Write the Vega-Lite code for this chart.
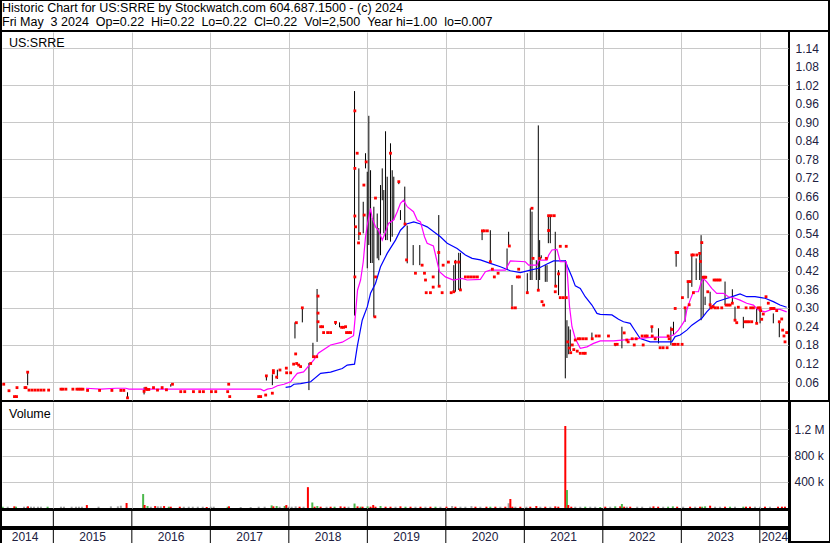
{
  "$schema": "https://vega.github.io/schema/vega-lite/v6.json",
  "background": "black",
  "padding": {"left": 2, "right": 2, "top": 1, "bottom": 2},
  "config": {
    "view": {"fill": "white", "stroke": null},
    "font": "Liberation Sans",
    "axis": {"gridColor": "#c8c8c8", "gridOpacity": 1, "gridWidth": 1, "labels": false, "ticks": false, "domain": false, "grid": true}
  },
  "datasets": {
    "bars": [
      {"t": 2014.673, "lo": 0.050, "hi": 0.092},
      {"t": 2015.945, "lo": 0.009, "hi": 0.027},
      {"t": 2016.156, "lo": 0.020, "hi": 0.043},
      {"t": 2016.386, "lo": 0.036, "hi": 0.045},
      {"t": 2016.496, "lo": 0.045, "hi": 0.053},
      {"t": 2017.714, "lo": 0.065, "hi": 0.080},
      {"t": 2017.790, "lo": 0.050, "hi": 0.085},
      {"t": 2017.854, "lo": 0.070, "hi": 0.100},
      {"t": 2018.078, "lo": 0.201, "hi": 0.253},
      {"t": 2018.172, "lo": 0.253, "hi": 0.300},
      {"t": 2018.256, "lo": 0.034, "hi": 0.122},
      {"t": 2018.307, "lo": 0.138, "hi": 0.187},
      {"t": 2018.360, "lo": 0.190, "hi": 0.361},
      {"t": 2018.595, "lo": 0.245, "hi": 0.255},
      {"t": 2018.646, "lo": 0.237, "hi": 0.253},
      {"t": 2018.837, "lo": 0.275, "hi": 1.001},
      {"t": 2018.892, "lo": 0.519, "hi": 0.751},
      {"t": 2018.948, "lo": 0.541, "hi": 0.643},
      {"t": 2018.977, "lo": 0.751, "hi": 0.800},
      {"t": 2018.999, "lo": 0.428, "hi": 0.740},
      {"t": 2019.019, "lo": 0.503, "hi": 0.921},
      {"t": 2019.041, "lo": 0.445, "hi": 0.745},
      {"t": 2019.062, "lo": 0.445, "hi": 0.590},
      {"t": 2019.083, "lo": 0.271, "hi": 0.627},
      {"t": 2019.126, "lo": 0.460, "hi": 0.605},
      {"t": 2019.146, "lo": 0.454, "hi": 0.558},
      {"t": 2019.168, "lo": 0.470, "hi": 0.697},
      {"t": 2019.190, "lo": 0.648, "hi": 0.751},
      {"t": 2019.210, "lo": 0.541, "hi": 0.681},
      {"t": 2019.232, "lo": 0.519, "hi": 0.871},
      {"t": 2019.253, "lo": 0.519, "hi": 0.724},
      {"t": 2019.295, "lo": 0.514, "hi": 0.832},
      {"t": 2019.317, "lo": 0.530, "hi": 0.745},
      {"t": 2019.337, "lo": 0.584, "hi": 0.724},
      {"t": 2019.401, "lo": 0.700, "hi": 0.708},
      {"t": 2019.422, "lo": 0.584, "hi": 0.616},
      {"t": 2019.477, "lo": 0.571, "hi": 0.692},
      {"t": 2019.508, "lo": 0.444, "hi": 0.566},
      {"t": 2019.584, "lo": 0.438, "hi": 0.503},
      {"t": 2019.668, "lo": 0.438, "hi": 0.503},
      {"t": 2019.910, "lo": 0.368, "hi": 0.600},
      {"t": 2020.101, "lo": 0.352, "hi": 0.438},
      {"t": 2020.122, "lo": 0.352, "hi": 0.455},
      {"t": 2020.164, "lo": 0.358, "hi": 0.478},
      {"t": 2020.186, "lo": 0.358, "hi": 0.478},
      {"t": 2020.462, "lo": 0.519, "hi": 0.549},
      {"t": 2020.567, "lo": 0.449, "hi": 0.551},
      {"t": 2020.780, "lo": 0.422, "hi": 0.492},
      {"t": 2020.800, "lo": 0.503, "hi": 0.546},
      {"t": 2020.843, "lo": 0.304, "hi": 0.374},
      {"t": 2021.038, "lo": 0.348, "hi": 0.412},
      {"t": 2021.076, "lo": 0.390, "hi": 0.622},
      {"t": 2021.098, "lo": 0.390, "hi": 0.611},
      {"t": 2021.153, "lo": 0.390, "hi": 0.454},
      {"t": 2021.178, "lo": 0.357, "hi": 0.890},
      {"t": 2021.195, "lo": 0.390, "hi": 0.519},
      {"t": 2021.216, "lo": 0.460, "hi": 0.470},
      {"t": 2021.267, "lo": 0.384, "hi": 0.438},
      {"t": 2021.289, "lo": 0.384, "hi": 0.438},
      {"t": 2021.306, "lo": 0.509, "hi": 0.600},
      {"t": 2021.331, "lo": 0.509, "hi": 0.600},
      {"t": 2021.394, "lo": 0.368, "hi": 0.546},
      {"t": 2021.436, "lo": 0.341, "hi": 0.422},
      {"t": 2021.522, "lo": 0.072, "hi": 0.454},
      {"t": 2021.543, "lo": 0.138, "hi": 0.260},
      {"t": 2021.565, "lo": 0.150, "hi": 0.240},
      {"t": 2021.585, "lo": 0.160, "hi": 0.230},
      {"t": 2021.861, "lo": 0.196, "hi": 0.220},
      {"t": 2022.158, "lo": 0.176, "hi": 0.182},
      {"t": 2022.243, "lo": 0.169, "hi": 0.239},
      {"t": 2022.625, "lo": 0.220, "hi": 0.239},
      {"t": 2022.709, "lo": 0.185, "hi": 0.234},
      {"t": 2022.867, "lo": 0.180, "hi": 0.239},
      {"t": 2022.900, "lo": 0.212, "hi": 0.255},
      {"t": 2022.934, "lo": 0.433, "hi": 0.479},
      {"t": 2023.048, "lo": 0.255, "hi": 0.300},
      {"t": 2023.086, "lo": 0.331, "hi": 0.385},
      {"t": 2023.134, "lo": 0.368, "hi": 0.471},
      {"t": 2023.189, "lo": 0.390, "hi": 0.460},
      {"t": 2023.234, "lo": 0.390, "hi": 0.476},
      {"t": 2023.252, "lo": 0.260, "hi": 0.535},
      {"t": 2023.278, "lo": 0.271, "hi": 0.400},
      {"t": 2023.303, "lo": 0.309, "hi": 0.336},
      {"t": 2023.367, "lo": 0.298, "hi": 0.352},
      {"t": 2023.557, "lo": 0.309, "hi": 0.385},
      {"t": 2023.650, "lo": 0.315, "hi": 0.360},
      {"t": 2023.684, "lo": 0.260, "hi": 0.304},
      {"t": 2023.790, "lo": 0.234, "hi": 0.271},
      {"t": 2023.960, "lo": 0.250, "hi": 0.298},
      {"t": 2024.003, "lo": 0.250, "hi": 0.298},
      {"t": 2024.172, "lo": 0.250, "hi": 0.282},
      {"t": 2024.248, "lo": 0.205, "hi": 0.255}
    ],
    "dots": [
      {"t": 2014.368, "p": 0.053}, {"t": 2014.435, "p": 0.032}, {"t": 2014.505, "p": 0.013}, {"t": 2014.531, "p": 0.013},
      {"t": 2014.537, "p": 0.042}, {"t": 2014.639, "p": 0.042}, {"t": 2014.651, "p": 0.042}, {"t": 2014.673, "p": 0.092},
      {"t": 2014.690, "p": 0.034}, {"t": 2014.728, "p": 0.034}, {"t": 2014.766, "p": 0.034}, {"t": 2014.804, "p": 0.034},
      {"t": 2014.842, "p": 0.034}, {"t": 2014.880, "p": 0.034}, {"t": 2014.940, "p": 0.034},
      {"t": 2015.097, "p": 0.037}, {"t": 2015.122, "p": 0.037}, {"t": 2015.160, "p": 0.037}, {"t": 2015.249, "p": 0.037},
      {"t": 2015.300, "p": 0.037}, {"t": 2015.326, "p": 0.037}, {"t": 2015.351, "p": 0.037}, {"t": 2015.377, "p": 0.037},
      {"t": 2015.436, "p": 0.033}, {"t": 2015.589, "p": 0.033}, {"t": 2015.746, "p": 0.033}, {"t": 2015.860, "p": 0.033},
      {"t": 2015.898, "p": 0.033}, {"t": 2015.945, "p": 0.009},
      {"t": 2016.156, "p": 0.030}, {"t": 2016.178, "p": 0.040}, {"t": 2016.190, "p": 0.036}, {"t": 2016.216, "p": 0.036},
      {"t": 2016.276, "p": 0.042}, {"t": 2016.327, "p": 0.034}, {"t": 2016.386, "p": 0.042}, {"t": 2016.441, "p": 0.035},
      {"t": 2016.518, "p": 0.053}, {"t": 2016.623, "p": 0.029}, {"t": 2016.674, "p": 0.029}, {"t": 2016.785, "p": 0.029},
      {"t": 2016.865, "p": 0.029}, {"t": 2016.912, "p": 0.029},
      {"t": 2017.014, "p": 0.029}, {"t": 2017.069, "p": 0.029}, {"t": 2017.221, "p": 0.029}, {"t": 2017.234, "p": 0.053},
      {"t": 2017.247, "p": 0.013}, {"t": 2017.616, "p": 0.013}, {"t": 2017.641, "p": 0.013}, {"t": 2017.705, "p": 0.018},
      {"t": 2017.714, "p": 0.080}, {"t": 2017.790, "p": 0.024}, {"t": 2017.803, "p": 0.090}, {"t": 2017.803, "p": 0.097},
      {"t": 2017.845, "p": 0.076}, {"t": 2017.887, "p": 0.099}, {"t": 2017.968, "p": 0.105}, {"t": 2017.972, "p": 0.090},
      {"t": 2018.023, "p": 0.090}, {"t": 2018.061, "p": 0.118}, {"t": 2018.087, "p": 0.151}, {"t": 2018.125, "p": 0.115},
      {"t": 2018.096, "p": 0.252}, {"t": 2018.172, "p": 0.300}, {"t": 2018.100, "p": 0.120}, {"t": 2018.150, "p": 0.110},
      {"t": 2018.278, "p": 0.120}, {"t": 2018.316, "p": 0.142}, {"t": 2018.355, "p": 0.142}, {"t": 2018.372, "p": 0.338},
      {"t": 2018.372, "p": 0.283}, {"t": 2018.372, "p": 0.255}, {"t": 2018.405, "p": 0.239}, {"t": 2018.430, "p": 0.239},
      {"t": 2018.443, "p": 0.220}, {"t": 2018.494, "p": 0.220}, {"t": 2018.532, "p": 0.220}, {"t": 2018.595, "p": 0.253},
      {"t": 2018.672, "p": 0.237}, {"t": 2018.697, "p": 0.237}, {"t": 2018.723, "p": 0.239}, {"t": 2018.735, "p": 0.220},
      {"t": 2018.761, "p": 0.220}, {"t": 2018.786, "p": 0.220}, {"t": 2018.841, "p": 0.937}, {"t": 2018.841, "p": 0.751},
      {"t": 2018.841, "p": 0.597}, {"t": 2018.850, "p": 0.562}, {"t": 2018.841, "p": 0.400}, {"t": 2018.871, "p": 0.800},
      {"t": 2018.888, "p": 0.510}, {"t": 2018.901, "p": 0.540}, {"t": 2018.956, "p": 0.697}, {"t": 2018.960, "p": 0.600},
      {"t": 2018.985, "p": 0.772}, {"t": 2019.096, "p": 0.271}, {"t": 2019.104, "p": 0.400}, {"t": 2019.104, "p": 0.655},
      {"t": 2019.295, "p": 0.800}, {"t": 2019.401, "p": 0.708}, {"t": 2019.480, "p": 0.571}, {"t": 2019.500, "p": 0.455},
      {"t": 2019.613, "p": 0.412}, {"t": 2019.698, "p": 0.438}, {"t": 2019.728, "p": 0.412}, {"t": 2019.741, "p": 0.390},
      {"t": 2019.750, "p": 0.349}, {"t": 2019.804, "p": 0.349}, {"t": 2019.839, "p": 0.400}, {"t": 2019.839, "p": 0.367},
      {"t": 2019.910, "p": 0.479}, {"t": 2019.915, "p": 0.370}, {"t": 2019.953, "p": 0.349}, {"t": 2019.966, "p": 0.438},
      {"t": 2020.033, "p": 0.448}, {"t": 2020.068, "p": 0.349}, {"t": 2020.101, "p": 0.352}, {"t": 2020.122, "p": 0.448},
      {"t": 2020.164, "p": 0.448}, {"t": 2020.186, "p": 0.358}, {"t": 2020.249, "p": 0.400}, {"t": 2020.288, "p": 0.400},
      {"t": 2020.326, "p": 0.400}, {"t": 2020.364, "p": 0.400}, {"t": 2020.402, "p": 0.400}, {"t": 2020.466, "p": 0.549},
      {"t": 2020.491, "p": 0.549}, {"t": 2020.529, "p": 0.549}, {"t": 2020.567, "p": 0.449}, {"t": 2020.593, "p": 0.425},
      {"t": 2020.618, "p": 0.400}, {"t": 2020.666, "p": 0.412}, {"t": 2020.809, "p": 0.500}, {"t": 2020.847, "p": 0.300},
      {"t": 2020.886, "p": 0.300}, {"t": 2020.911, "p": 0.400}, {"t": 2020.928, "p": 0.425}, {"t": 2020.937, "p": 0.400},
      {"t": 2021.038, "p": 0.349}, {"t": 2021.098, "p": 0.622}, {"t": 2021.111, "p": 0.460}, {"t": 2021.178, "p": 0.357},
      {"t": 2021.195, "p": 0.460}, {"t": 2021.225, "p": 0.320}, {"t": 2021.246, "p": 0.309}, {"t": 2021.280, "p": 0.460},
      {"t": 2021.309, "p": 0.598}, {"t": 2021.343, "p": 0.598}, {"t": 2021.381, "p": 0.598}, {"t": 2021.309, "p": 0.550},
      {"t": 2021.394, "p": 0.352}, {"t": 2021.400, "p": 0.370}, {"t": 2021.436, "p": 0.410}, {"t": 2021.458, "p": 0.499},
      {"t": 2021.534, "p": 0.499}, {"t": 2021.458, "p": 0.333}, {"t": 2021.496, "p": 0.333}, {"t": 2021.534, "p": 0.333},
      {"t": 2021.553, "p": 0.190}, {"t": 2021.572, "p": 0.170}, {"t": 2021.591, "p": 0.155}, {"t": 2021.611, "p": 0.180},
      {"t": 2021.630, "p": 0.165}, {"t": 2021.649, "p": 0.196}, {"t": 2021.674, "p": 0.160}, {"t": 2021.687, "p": 0.200},
      {"t": 2021.713, "p": 0.200}, {"t": 2021.751, "p": 0.200}, {"t": 2021.713, "p": 0.153}, {"t": 2021.751, "p": 0.153},
      {"t": 2021.776, "p": 0.153}, {"t": 2021.789, "p": 0.200}, {"t": 2021.865, "p": 0.200}, {"t": 2021.916, "p": 0.209},
      {"t": 2021.954, "p": 0.209}, {"t": 2022.072, "p": 0.209}, {"t": 2022.158, "p": 0.182}, {"t": 2022.183, "p": 0.182},
      {"t": 2022.272, "p": 0.219}, {"t": 2022.306, "p": 0.196}, {"t": 2022.323, "p": 0.190}, {"t": 2022.374, "p": 0.200},
      {"t": 2022.400, "p": 0.180}, {"t": 2022.425, "p": 0.200}, {"t": 2022.501, "p": 0.209}, {"t": 2022.514, "p": 0.180},
      {"t": 2022.540, "p": 0.209}, {"t": 2022.565, "p": 0.209}, {"t": 2022.625, "p": 0.239}, {"t": 2022.629, "p": 0.209},
      {"t": 2022.667, "p": 0.200}, {"t": 2022.730, "p": 0.171}, {"t": 2022.768, "p": 0.171}, {"t": 2022.819, "p": 0.171},
      {"t": 2022.832, "p": 0.209}, {"t": 2022.845, "p": 0.200}, {"t": 2022.879, "p": 0.230}, {"t": 2022.896, "p": 0.182},
      {"t": 2022.922, "p": 0.298}, {"t": 2022.922, "p": 0.182}, {"t": 2022.934, "p": 0.479}, {"t": 2022.953, "p": 0.479},
      {"t": 2022.959, "p": 0.182}, {"t": 2023.010, "p": 0.182}, {"t": 2023.014, "p": 0.333}, {"t": 2023.048, "p": 0.300},
      {"t": 2023.086, "p": 0.385}, {"t": 2023.112, "p": 0.385}, {"t": 2023.100, "p": 0.310}, {"t": 2023.134, "p": 0.471},
      {"t": 2023.154, "p": 0.471}, {"t": 2023.197, "p": 0.471}, {"t": 2023.154, "p": 0.349}, {"t": 2023.234, "p": 0.476},
      {"t": 2023.243, "p": 0.450}, {"t": 2023.261, "p": 0.511}, {"t": 2023.278, "p": 0.399}, {"t": 2023.294, "p": 0.399},
      {"t": 2023.311, "p": 0.399}, {"t": 2023.337, "p": 0.352}, {"t": 2023.367, "p": 0.310}, {"t": 2023.380, "p": 0.300},
      {"t": 2023.417, "p": 0.390}, {"t": 2023.443, "p": 0.390}, {"t": 2023.469, "p": 0.390}, {"t": 2023.494, "p": 0.390},
      {"t": 2023.405, "p": 0.304}, {"t": 2023.430, "p": 0.300}, {"t": 2023.464, "p": 0.300}, {"t": 2023.515, "p": 0.300},
      {"t": 2023.570, "p": 0.309}, {"t": 2023.596, "p": 0.309}, {"t": 2023.621, "p": 0.309}, {"t": 2023.650, "p": 0.315},
      {"t": 2023.684, "p": 0.260}, {"t": 2023.706, "p": 0.252}, {"t": 2023.726, "p": 0.302}, {"t": 2023.811, "p": 0.255},
      {"t": 2023.837, "p": 0.255}, {"t": 2023.863, "p": 0.255}, {"t": 2023.897, "p": 0.255}, {"t": 2023.825, "p": 0.300},
      {"t": 2023.884, "p": 0.300}, {"t": 2023.918, "p": 0.300}, {"t": 2023.960, "p": 0.250}, {"t": 2023.978, "p": 0.300},
      {"t": 2024.003, "p": 0.300}, {"t": 2024.011, "p": 0.291}, {"t": 2024.024, "p": 0.263}, {"t": 2024.044, "p": 0.280},
      {"t": 2024.079, "p": 0.336}, {"t": 2024.108, "p": 0.315}, {"t": 2024.139, "p": 0.298}, {"t": 2024.159, "p": 0.298},
      {"t": 2024.181, "p": 0.298}, {"t": 2024.215, "p": 0.291}, {"t": 2024.248, "p": 0.255}, {"t": 2024.279, "p": 0.264},
      {"t": 2024.291, "p": 0.228}, {"t": 2024.308, "p": 0.209}, {"t": 2024.321, "p": 0.190}, {"t": 2024.342, "p": 0.220}
    ],
    "ma1": [
      {"t": 2015.415, "v": 0.040}, {"t": 2015.606, "v": 0.037}, {"t": 2015.796, "v": 0.040}, {"t": 2015.924, "v": 0.040},
      {"t": 2015.962, "v": 0.037}, {"t": 2016.114, "v": 0.037}, {"t": 2016.878, "v": 0.037}, {"t": 2017.641, "v": 0.037},
      {"t": 2017.683, "v": 0.032}, {"t": 2017.726, "v": 0.037}, {"t": 2017.790, "v": 0.040}, {"t": 2017.854, "v": 0.048},
      {"t": 2017.938, "v": 0.053}, {"t": 2018.023, "v": 0.061}, {"t": 2018.065, "v": 0.075}, {"t": 2018.108, "v": 0.088},
      {"t": 2018.188, "v": 0.093}, {"t": 2018.316, "v": 0.131}, {"t": 2018.379, "v": 0.154}, {"t": 2018.532, "v": 0.180},
      {"t": 2018.681, "v": 0.189}, {"t": 2018.824, "v": 0.210}, {"t": 2018.850, "v": 0.283}, {"t": 2018.875, "v": 0.357},
      {"t": 2018.914, "v": 0.390}, {"t": 2018.948, "v": 0.449}, {"t": 2018.977, "v": 0.530}, {"t": 2019.003, "v": 0.573},
      {"t": 2019.041, "v": 0.622}, {"t": 2019.062, "v": 0.590}, {"t": 2019.104, "v": 0.562}, {"t": 2019.143, "v": 0.551},
      {"t": 2019.190, "v": 0.519}, {"t": 2019.232, "v": 0.545}, {"t": 2019.270, "v": 0.573}, {"t": 2019.334, "v": 0.584},
      {"t": 2019.381, "v": 0.611}, {"t": 2019.422, "v": 0.638}, {"t": 2019.461, "v": 0.648}, {"t": 2019.508, "v": 0.627},
      {"t": 2019.588, "v": 0.611}, {"t": 2019.635, "v": 0.584}, {"t": 2019.677, "v": 0.578}, {"t": 2019.728, "v": 0.530},
      {"t": 2019.762, "v": 0.509}, {"t": 2019.842, "v": 0.500}, {"t": 2019.889, "v": 0.449}, {"t": 2019.919, "v": 0.417},
      {"t": 2019.995, "v": 0.400}, {"t": 2020.097, "v": 0.390}, {"t": 2020.207, "v": 0.395}, {"t": 2020.271, "v": 0.390},
      {"t": 2020.440, "v": 0.392}, {"t": 2020.504, "v": 0.417}, {"t": 2020.567, "v": 0.422}, {"t": 2020.758, "v": 0.422},
      {"t": 2020.822, "v": 0.452}, {"t": 2021.013, "v": 0.449}, {"t": 2021.055, "v": 0.438}, {"t": 2021.162, "v": 0.438},
      {"t": 2021.182, "v": 0.454}, {"t": 2021.289, "v": 0.454}, {"t": 2021.309, "v": 0.470}, {"t": 2021.352, "v": 0.487},
      {"t": 2021.416, "v": 0.489}, {"t": 2021.458, "v": 0.449}, {"t": 2021.534, "v": 0.449}, {"t": 2021.551, "v": 0.400},
      {"t": 2021.576, "v": 0.304}, {"t": 2021.607, "v": 0.239}, {"t": 2021.649, "v": 0.201}, {"t": 2021.713, "v": 0.169},
      {"t": 2021.798, "v": 0.174}, {"t": 2021.882, "v": 0.185}, {"t": 2021.967, "v": 0.193}, {"t": 2022.136, "v": 0.193},
      {"t": 2022.349, "v": 0.198}, {"t": 2022.476, "v": 0.201}, {"t": 2022.645, "v": 0.205}, {"t": 2022.815, "v": 0.205},
      {"t": 2022.900, "v": 0.212}, {"t": 2022.963, "v": 0.228}, {"t": 2023.006, "v": 0.244}, {"t": 2023.048, "v": 0.261},
      {"t": 2023.070, "v": 0.293}, {"t": 2023.112, "v": 0.325}, {"t": 2023.154, "v": 0.352}, {"t": 2023.218, "v": 0.352},
      {"t": 2023.248, "v": 0.379}, {"t": 2023.281, "v": 0.395}, {"t": 2023.324, "v": 0.384}, {"t": 2023.388, "v": 0.363},
      {"t": 2023.451, "v": 0.347}, {"t": 2023.536, "v": 0.347}, {"t": 2023.600, "v": 0.336}, {"t": 2023.684, "v": 0.331},
      {"t": 2023.748, "v": 0.325}, {"t": 2023.833, "v": 0.315}, {"t": 2023.918, "v": 0.309}, {"t": 2023.981, "v": 0.293},
      {"t": 2024.067, "v": 0.287}, {"t": 2024.151, "v": 0.295}, {"t": 2024.257, "v": 0.295}, {"t": 2024.342, "v": 0.287}
    ],
    "ma2": [
      {"t": 2017.959, "v": 0.043}, {"t": 2018.023, "v": 0.045}, {"t": 2018.065, "v": 0.053}, {"t": 2018.150, "v": 0.055},
      {"t": 2018.278, "v": 0.061}, {"t": 2018.405, "v": 0.088}, {"t": 2018.532, "v": 0.092}, {"t": 2018.681, "v": 0.104},
      {"t": 2018.744, "v": 0.115}, {"t": 2018.837, "v": 0.118}, {"t": 2018.871, "v": 0.174}, {"t": 2018.935, "v": 0.260},
      {"t": 2018.999, "v": 0.303}, {"t": 2019.041, "v": 0.347}, {"t": 2019.104, "v": 0.379}, {"t": 2019.168, "v": 0.433},
      {"t": 2019.253, "v": 0.476}, {"t": 2019.359, "v": 0.519}, {"t": 2019.422, "v": 0.551}, {"t": 2019.499, "v": 0.571},
      {"t": 2019.592, "v": 0.578}, {"t": 2019.677, "v": 0.571}, {"t": 2019.762, "v": 0.562}, {"t": 2019.846, "v": 0.546},
      {"t": 2019.931, "v": 0.530}, {"t": 2020.017, "v": 0.509}, {"t": 2020.144, "v": 0.492}, {"t": 2020.249, "v": 0.471},
      {"t": 2020.335, "v": 0.460}, {"t": 2020.440, "v": 0.455}, {"t": 2020.567, "v": 0.444}, {"t": 2020.695, "v": 0.433},
      {"t": 2020.822, "v": 0.420}, {"t": 2020.949, "v": 0.414}, {"t": 2021.076, "v": 0.422}, {"t": 2021.182, "v": 0.428},
      {"t": 2021.289, "v": 0.442}, {"t": 2021.373, "v": 0.452}, {"t": 2021.522, "v": 0.452}, {"t": 2021.551, "v": 0.433},
      {"t": 2021.607, "v": 0.400}, {"t": 2021.649, "v": 0.371}, {"t": 2021.713, "v": 0.363}, {"t": 2021.776, "v": 0.336},
      {"t": 2021.861, "v": 0.309}, {"t": 2021.925, "v": 0.282}, {"t": 2021.967, "v": 0.279}, {"t": 2022.116, "v": 0.277},
      {"t": 2022.200, "v": 0.263}, {"t": 2022.263, "v": 0.255}, {"t": 2022.349, "v": 0.250}, {"t": 2022.400, "v": 0.230},
      {"t": 2022.476, "v": 0.201}, {"t": 2022.603, "v": 0.190}, {"t": 2022.879, "v": 0.190}, {"t": 2022.921, "v": 0.207},
      {"t": 2022.985, "v": 0.212}, {"t": 2023.070, "v": 0.228}, {"t": 2023.134, "v": 0.244}, {"t": 2023.197, "v": 0.255},
      {"t": 2023.261, "v": 0.266}, {"t": 2023.324, "v": 0.287}, {"t": 2023.388, "v": 0.304}, {"t": 2023.451, "v": 0.320},
      {"t": 2023.536, "v": 0.327}, {"t": 2023.621, "v": 0.334}, {"t": 2023.748, "v": 0.345}, {"t": 2023.833, "v": 0.336},
      {"t": 2023.939, "v": 0.336}, {"t": 2024.067, "v": 0.331}, {"t": 2024.172, "v": 0.320}, {"t": 2024.257, "v": 0.309},
      {"t": 2024.342, "v": 0.302}
    ],
    "vol": [
      {"t": 2014.355, "vol": 20000, "dir": "up"}, {"t": 2014.419, "vol": 20000, "dir": "flat"}, {"t": 2014.503, "vol": 25000, "dir": "down"},
      {"t": 2014.524, "vol": 20000, "dir": "up"}, {"t": 2014.626, "vol": 20000, "dir": "flat"}, {"t": 2014.664, "vol": 20000, "dir": "flat"},
      {"t": 2014.677, "vol": 25000, "dir": "down"}, {"t": 2014.715, "vol": 20000, "dir": "flat"}, {"t": 2014.753, "vol": 20000, "dir": "flat"},
      {"t": 2014.804, "vol": 20000, "dir": "flat"}, {"t": 2014.842, "vol": 20000, "dir": "flat"}, {"t": 2014.927, "vol": 20000, "dir": "up"},
      {"t": 2015.097, "vol": 20000, "dir": "flat"}, {"t": 2015.135, "vol": 20000, "dir": "flat"}, {"t": 2015.233, "vol": 20000, "dir": "flat"},
      {"t": 2015.288, "vol": 20000, "dir": "flat"}, {"t": 2015.326, "vol": 20000, "dir": "flat"}, {"t": 2015.364, "vol": 20000, "dir": "flat"},
      {"t": 2015.427, "vol": 45000, "dir": "down"}, {"t": 2015.576, "vol": 20000, "dir": "flat"}, {"t": 2015.733, "vol": 25000, "dir": "flat"},
      {"t": 2015.822, "vol": 25000, "dir": "flat"}, {"t": 2015.860, "vol": 35000, "dir": "flat"}, {"t": 2015.933, "vol": 76000, "dir": "down"},
      {"t": 2016.144, "vol": 213000, "dir": "up"}, {"t": 2016.162, "vol": 46000, "dir": "down"}, {"t": 2016.200, "vol": 30000, "dir": "up"},
      {"t": 2016.242, "vol": 20000, "dir": "flat"}, {"t": 2016.297, "vol": 30000, "dir": "down"}, {"t": 2016.331, "vol": 25000, "dir": "flat"},
      {"t": 2016.369, "vol": 25000, "dir": "flat"}, {"t": 2016.411, "vol": 30000, "dir": "down"}, {"t": 2016.471, "vol": 20000, "dir": "up"},
      {"t": 2016.496, "vol": 20000, "dir": "down"}, {"t": 2016.611, "vol": 20000, "dir": "down"}, {"t": 2016.662, "vol": 20000, "dir": "flat"},
      {"t": 2016.725, "vol": 20000, "dir": "flat"}, {"t": 2016.776, "vol": 20000, "dir": "flat"}, {"t": 2016.840, "vol": 20000, "dir": "flat"},
      {"t": 2016.903, "vol": 20000, "dir": "flat"}, {"t": 2016.954, "vol": 15000, "dir": "down"},
      {"t": 2017.005, "vol": 20000, "dir": "flat"}, {"t": 2017.043, "vol": 20000, "dir": "flat"}, {"t": 2017.221, "vol": 20000, "dir": "up"},
      {"t": 2017.238, "vol": 25000, "dir": "down"}, {"t": 2017.387, "vol": 15000, "dir": "flat"}, {"t": 2017.514, "vol": 15000, "dir": "flat"},
      {"t": 2017.616, "vol": 20000, "dir": "flat"}, {"t": 2017.692, "vol": 20000, "dir": "flat"}, {"t": 2017.781, "vol": 40000, "dir": "up"},
      {"t": 2017.803, "vol": 25000, "dir": "down"}, {"t": 2017.845, "vol": 30000, "dir": "up"}, {"t": 2017.883, "vol": 20000, "dir": "flat"},
      {"t": 2017.947, "vol": 30000, "dir": "up"}, {"t": 2017.968, "vol": 45000, "dir": "down"}, {"t": 2017.997, "vol": 20000, "dir": "flat"},
      {"t": 2018.036, "vol": 20000, "dir": "flat"}, {"t": 2018.087, "vol": 25000, "dir": "flat"}, {"t": 2018.137, "vol": 20000, "dir": "down"},
      {"t": 2018.188, "vol": 20000, "dir": "flat"}, {"t": 2018.243, "vol": 318000, "dir": "down"}, {"t": 2018.299, "vol": 84000, "dir": "up"},
      {"t": 2018.328, "vol": 20000, "dir": "down"}, {"t": 2018.363, "vol": 30000, "dir": "up"}, {"t": 2018.405, "vol": 20000, "dir": "down"},
      {"t": 2018.481, "vol": 20000, "dir": "flat"}, {"t": 2018.532, "vol": 20000, "dir": "down"}, {"t": 2018.583, "vol": 20000, "dir": "up"},
      {"t": 2018.659, "vol": 25000, "dir": "down"}, {"t": 2018.710, "vol": 20000, "dir": "down"}, {"t": 2018.761, "vol": 20000, "dir": "flat"},
      {"t": 2018.837, "vol": 68000, "dir": "up"}, {"t": 2018.875, "vol": 25000, "dir": "down"}, {"t": 2018.914, "vol": 20000, "dir": "up"},
      {"t": 2018.939, "vol": 20000, "dir": "down"},
      {"t": 2019.003, "vol": 25000, "dir": "up"}, {"t": 2019.041, "vol": 20000, "dir": "down"}, {"t": 2019.075, "vol": 45000, "dir": "down"},
      {"t": 2019.104, "vol": 20000, "dir": "down"}, {"t": 2019.168, "vol": 30000, "dir": "up"}, {"t": 2019.232, "vol": 20000, "dir": "down"},
      {"t": 2019.295, "vol": 20000, "dir": "down"}, {"t": 2019.359, "vol": 20000, "dir": "flat"}, {"t": 2019.422, "vol": 25000, "dir": "down"},
      {"t": 2019.486, "vol": 20000, "dir": "up"}, {"t": 2019.550, "vol": 20000, "dir": "down"}, {"t": 2019.613, "vol": 20000, "dir": "flat"},
      {"t": 2019.677, "vol": 20000, "dir": "down"}, {"t": 2019.740, "vol": 20000, "dir": "flat"}, {"t": 2019.804, "vol": 20000, "dir": "down"},
      {"t": 2019.868, "vol": 20000, "dir": "up"}, {"t": 2019.931, "vol": 20000, "dir": "flat"},
      {"t": 2020.008, "vol": 20000, "dir": "down"}, {"t": 2020.080, "vol": 30000, "dir": "flat"}, {"t": 2020.122, "vol": 20000, "dir": "down"},
      {"t": 2020.186, "vol": 20000, "dir": "flat"}, {"t": 2020.249, "vol": 20000, "dir": "flat"}, {"t": 2020.326, "vol": 28000, "dir": "flat"},
      {"t": 2020.377, "vol": 20000, "dir": "down"}, {"t": 2020.440, "vol": 20000, "dir": "flat"}, {"t": 2020.517, "vol": 20000, "dir": "down"},
      {"t": 2020.567, "vol": 20000, "dir": "up"}, {"t": 2020.631, "vol": 20000, "dir": "down"}, {"t": 2020.695, "vol": 20000, "dir": "flat"},
      {"t": 2020.758, "vol": 20000, "dir": "down"}, {"t": 2020.800, "vol": 72000, "dir": "flat"}, {"t": 2020.822, "vol": 137000, "dir": "down"},
      {"t": 2020.847, "vol": 20000, "dir": "down"}, {"t": 2020.886, "vol": 20000, "dir": "flat"}, {"t": 2020.949, "vol": 20000, "dir": "down"},
      {"t": 2021.026, "vol": 20000, "dir": "flat"}, {"t": 2021.076, "vol": 20000, "dir": "down"}, {"t": 2021.153, "vol": 30000, "dir": "down"},
      {"t": 2021.204, "vol": 20000, "dir": "flat"}, {"t": 2021.267, "vol": 20000, "dir": "down"}, {"t": 2021.331, "vol": 20000, "dir": "flat"},
      {"t": 2021.394, "vol": 25000, "dir": "down"}, {"t": 2021.433, "vol": 20000, "dir": "down"}, {"t": 2021.522, "vol": 1250000, "dir": "down"},
      {"t": 2021.543, "vol": 274000, "dir": "up"}, {"t": 2021.560, "vol": 45000, "dir": "down"}, {"t": 2021.598, "vol": 20000, "dir": "down"},
      {"t": 2021.649, "vol": 20000, "dir": "flat"}, {"t": 2021.713, "vol": 20000, "dir": "flat"}, {"t": 2021.776, "vol": 20000, "dir": "up"},
      {"t": 2021.840, "vol": 20000, "dir": "flat"}, {"t": 2021.903, "vol": 20000, "dir": "flat"}, {"t": 2021.967, "vol": 15000, "dir": "up"},
      {"t": 2022.031, "vol": 20000, "dir": "down"}, {"t": 2022.094, "vol": 20000, "dir": "flat"}, {"t": 2022.158, "vol": 25000, "dir": "up"},
      {"t": 2022.222, "vol": 25000, "dir": "down"}, {"t": 2022.243, "vol": 61000, "dir": "up"}, {"t": 2022.272, "vol": 20000, "dir": "down"},
      {"t": 2022.307, "vol": 20000, "dir": "flat"}, {"t": 2022.349, "vol": 20000, "dir": "down"}, {"t": 2022.438, "vol": 20000, "dir": "flat"},
      {"t": 2022.501, "vol": 20000, "dir": "flat"}, {"t": 2022.603, "vol": 20000, "dir": "flat"}, {"t": 2022.645, "vol": 25000, "dir": "down"},
      {"t": 2022.705, "vol": 20000, "dir": "down"}, {"t": 2022.769, "vol": 20000, "dir": "flat"}, {"t": 2022.832, "vol": 20000, "dir": "up"},
      {"t": 2022.892, "vol": 25000, "dir": "up"}, {"t": 2022.947, "vol": 20000, "dir": "down"},
      {"t": 2023.023, "vol": 20000, "dir": "flat"}, {"t": 2023.112, "vol": 20000, "dir": "down"}, {"t": 2023.176, "vol": 20000, "dir": "flat"},
      {"t": 2023.239, "vol": 20000, "dir": "down"}, {"t": 2023.265, "vol": 20000, "dir": "up"}, {"t": 2023.303, "vol": 25000, "dir": "up"},
      {"t": 2023.367, "vol": 35000, "dir": "down"}, {"t": 2023.430, "vol": 20000, "dir": "flat"}, {"t": 2023.494, "vol": 20000, "dir": "flat"},
      {"t": 2023.557, "vol": 20000, "dir": "down"}, {"t": 2023.621, "vol": 20000, "dir": "up"}, {"t": 2023.684, "vol": 20000, "dir": "flat"},
      {"t": 2023.790, "vol": 20000, "dir": "up"}, {"t": 2023.824, "vol": 20000, "dir": "down"}, {"t": 2023.875, "vol": 20000, "dir": "down"},
      {"t": 2023.939, "vol": 20000, "dir": "flat"}, {"t": 2024.003, "vol": 20000, "dir": "flat"}, {"t": 2024.066, "vol": 20000, "dir": "down"},
      {"t": 2024.130, "vol": 20000, "dir": "flat"}, {"t": 2024.232, "vol": 20000, "dir": "down"}, {"t": 2024.282, "vol": 20000, "dir": "down"},
      {"t": 2024.321, "vol": 20000, "dir": "down"}
    ],
    "yearlines": [
      {"t": 2015}, {"t": 2016}, {"t": 2017}, {"t": 2018}, {"t": 2019},
      {"t": 2020}, {"t": 2021}, {"t": 2022}, {"t": 2023}, {"t": 2024}
    ],
    "yearlabels": [
      {"label": "2014", "t": 2014.64}, {"label": "2015", "t": 2015.5}, {"label": "2016", "t": 2016.5},
      {"label": "2017", "t": 2017.5}, {"label": "2018", "t": 2018.5}, {"label": "2019", "t": 2019.5},
      {"label": "2020", "t": 2020.5}, {"label": "2021", "t": 2021.5}, {"label": "2022", "t": 2022.5},
      {"label": "2023", "t": 2023.5}, {"label": "2024", "t": 2024.19}
    ]
  },
  "spacing": 2,
  "vconcat": [
    {
      "width": 826,
      "height": 29,
      "data": {"values": [{"lines": ["Historic Chart for US:SRRE by Stockwatch.com 604.687.1500 - (c) 2024", "Fri May\u00a0\u00a03 2024\u00a0\u00a0Op=0.22\u00a0\u00a0Hi=0.22\u00a0\u00a0Lo=0.22\u00a0\u00a0Cl=0.22\u00a0\u00a0Vol=2,500\u00a0\u00a0Year hi=1.00\u00a0\u00a0lo=0.007"]}]},
      "mark": {"type": "text", "align": "left", "baseline": "top", "fontSize": 12.5, "lineHeight": 14, "dy": 0.5, "color": "black", "font": "Liberation Sans"},
      "encoding": {
        "text": {"field": "lines", "type": "nominal"},
        "x": {"datum": 0, "type": "quantitative", "scale": {"domain": [0, 1], "nice": false, "zero": false}, "axis": null},
        "y": {"datum": 1, "type": "quantitative", "scale": {"domain": [0, 1], "nice": false, "zero": false}, "axis": null}
      }
    },
    {
      "spacing": 2,
      "hconcat": [
        {
          "width": 786,
          "height": 368,
          "layer": [
            {
              "data": {"name": "bars"},
              "mark": {"type": "rule", "color": "black", "strokeWidth": 1, "clip": true},
              "encoding": {
                "x": {"field": "t", "type": "quantitative", "scale": {"domain": [2014.346, 2024.359], "nice": false, "zero": false},
                      "axis": {"values": [2015, 2016, 2017, 2018, 2019, 2020, 2021, 2022, 2023, 2024], "grid": true, "labels": false, "ticks": false, "domain": false, "title": null}},
                "y": {"field": "lo", "type": "quantitative", "scale": {"domain": [0.002, 1.192], "nice": false, "zero": false},
                      "axis": {"values": [0.06, 0.12, 0.18, 0.24, 0.3, 0.36, 0.42, 0.48, 0.54, 0.6, 0.66, 0.72, 0.78, 0.84, 0.9, 0.96, 1.02, 1.08, 1.14], "grid": true, "labels": false, "ticks": false, "domain": false, "title": null}},
                "y2": {"field": "hi"}
              }
            },
            {
              "data": {"name": "ma2"},
              "mark": {"type": "line", "color": "#0000ff", "strokeWidth": 1.2, "clip": true},
              "encoding": {"x": {"field": "t", "type": "quantitative"}, "y": {"field": "v", "type": "quantitative"}}
            },
            {
              "data": {"name": "ma1"},
              "mark": {"type": "line", "color": "#ff00ff", "strokeWidth": 1.2, "clip": true},
              "encoding": {"x": {"field": "t", "type": "quantitative"}, "y": {"field": "v", "type": "quantitative"}}
            },
            {
              "data": {"name": "dots"},
              "mark": {"type": "square", "color": "#ff0000", "size": 8, "opacity": 1, "filled": true, "clip": true},
              "encoding": {"x": {"field": "t", "type": "quantitative"}, "y": {"field": "p", "type": "quantitative"}}
            },
            {
              "data": {"values": [{"name": "US:SRRE"}]},
              "mark": {"type": "text", "align": "left", "baseline": "alphabetic", "fontSize": 12.5, "dx": 7, "color": "black"},
              "encoding": {
                "x": {"datum": 2014.346, "type": "quantitative"},
                "y": {"datum": 1.144, "type": "quantitative"},
                "text": {"field": "name", "type": "nominal"}
              }
            }
          ]
        },
        {
          "width": 38,
          "height": 368,
          "data": {"values": [{"p": 0.5}]},
          "mark": {"type": "point", "opacity": 0},
          "encoding": {
            "y": {"field": "p", "type": "quantitative", "scale": {"domain": [0.002, 1.192], "nice": false, "zero": false},
                  "axis": {"orient": "left", "values": [0.06, 0.12, 0.18, 0.24, 0.3, 0.36, 0.42, 0.48, 0.54, 0.6, 0.66, 0.72, 0.78, 0.84, 0.9, 0.96, 1.02, 1.08, 1.14],
                           "format": ".2f", "labels": true, "labelAlign": "left", "labelBaseline": "middle", "labelPadding": -5, "tickSize": 0, "ticks": false, "domain": false, "grid": false, "title": null,
                           "labelFontSize": 12, "labelColor": "#202040", "labelFont": "Liberation Sans", "labelOverlap": false}}
          }
        }
      ]
    },
    {
      "spacing": 2,
      "hconcat": [
        {
          "spacing": 2,
          "vconcat": [
            {
              "width": 786,
              "height": 106,
              "layer": [
                {
                  "data": {"name": "vol"},
                  "mark": {"type": "rule", "strokeWidth": 2, "clip": true},
                  "encoding": {
                    "x": {"field": "t", "type": "quantitative", "scale": {"domain": [2014.346, 2024.359], "nice": false, "zero": false},
                          "axis": {"values": [2015, 2016, 2017, 2018, 2019, 2020, 2021, 2022, 2023, 2024], "grid": true, "labels": false, "ticks": false, "domain": false, "title": null}},
                    "y": {"field": "vol", "type": "quantitative", "scale": {"domain": [0, 1616300], "nice": false, "zero": false},
                          "axis": {"values": [400000, 800000, 1200000], "grid": true, "labels": false, "ticks": false, "domain": false, "title": null}},
                    "y2": {"datum": 0},
                    "color": {"field": "dir", "type": "nominal", "scale": {"domain": ["down", "up", "flat"], "range": ["#ff0000", "#4cb84c", "#a0a0a0"]}, "legend": null}
                  }
                },
                {
                  "data": {"values": [{"name": "Volume"}]},
                  "mark": {"type": "text", "align": "left", "baseline": "alphabetic", "fontSize": 12.5, "dx": 7, "color": "black"},
                  "encoding": {
                    "x": {"datum": 2014.346, "type": "quantitative"},
                    "y": {"datum": 1376000, "type": "quantitative"},
                    "text": {"field": "name", "type": "nominal"}
                  }
                }
              ]
            },
            {
              "width": 786,
              "height": 15,
              "data": {"name": "yearlines"},
              "mark": {"type": "rule", "color": "black", "strokeWidth": 1},
              "encoding": {
                "x": {"field": "t", "type": "quantitative", "scale": {"domain": [2014.346, 2024.359], "nice": false, "zero": false}, "axis": null}
              }
            },
            {
              "width": 786,
              "height": 14,
              "layer": [
                {
                  "data": {"name": "yearlines"},
                  "mark": {"type": "rule", "color": "black", "strokeWidth": 1},
                  "encoding": {
                    "x": {"field": "t", "type": "quantitative", "scale": {"domain": [2014.346, 2024.359], "nice": false, "zero": false}, "axis": null}
                  }
                },
                {
                  "data": {"name": "yearlabels"},
                  "mark": {"type": "text", "align": "center", "baseline": "middle", "fontSize": 12, "color": "#202040", "font": "Liberation Sans"},
                  "encoding": {
                    "x": {"field": "t", "type": "quantitative"},
                    "text": {"field": "label", "type": "nominal"}
                  }
                }
              ]
            }
          ]
        },
        {
          "width": 38,
          "height": 139,
          "data": {"values": [{"v": 0}]},
          "mark": {"type": "point", "opacity": 0},
          "encoding": {
            "y": {"field": "v", "type": "quantitative", "scale": {"domain": [-503300, 1616300], "nice": false, "zero": false},
                  "axis": {"orient": "left", "values": [400000, 800000, 1200000],
                           "labelExpr": "datum.value >= 1000000 ? format(datum.value / 1000000, '.1f') + ' M' : format(datum.value / 1000, 'd') + ' k'",
                           "labels": true, "labelAlign": "left", "labelBaseline": "middle", "labelPadding": -3, "tickSize": 0, "ticks": false, "domain": false, "grid": false, "title": null,
                           "labelFontSize": 12, "labelColor": "#202040", "labelFont": "Liberation Sans", "labelOverlap": false}}
          }
        }
      ]
    }
  ]
}
